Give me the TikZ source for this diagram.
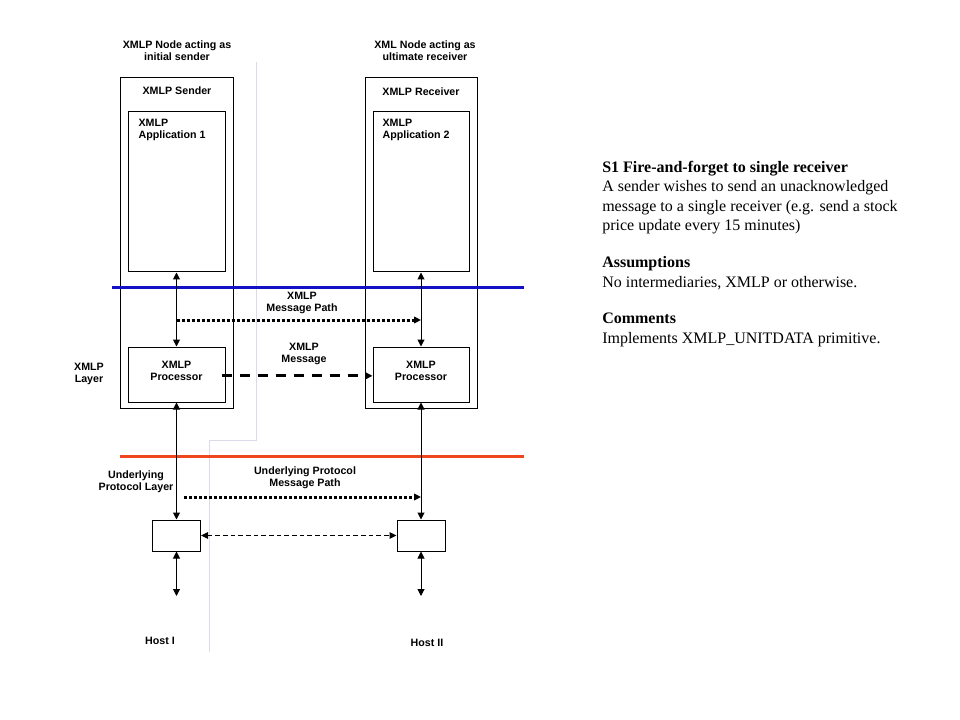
\documentclass[tikz,border=0pt]{standalone}
\usepackage{fontspec}
\setmainfont{Liberation Serif}
\setsansfont{Liberation Sans}
\usepackage{xcolor}
\usepackage{tikz}
\usetikzlibrary{calc,fit,arrows.meta}
\definecolor{bg}{HTML}{FFFFFF}
\definecolor{ink}{HTML}{000000}
\definecolor{xmlpblue}{HTML}{1212C4}
\definecolor{protored}{HTML}{F0461E}
\definecolor{guide}{HTML}{DADAE8}
\newcommand\labfont{\sffamily\bfseries\fontsize{8}{9.2}\selectfont}
\tikzset{
  box/.style={draw=ink, line width=0.75pt, inner sep=0pt, font=\labfont, align=center},
  link/.style={draw=ink, line width=0.75pt, {Triangle[length=5.25pt,width=5.25pt]}-{Triangle[length=5.25pt,width=5.25pt]}},
  path/.style={draw=ink, line width=2.25pt, dash pattern=on 2.25pt off 1.5pt, -{Triangle[length=5.25pt,width=5pt]}},
  msg/.style={draw=ink, line width=2.25pt, dash pattern=on 8pt off 5.5pt, -{Triangle[length=5.25pt,width=5pt]}},
  wire/.style={draw=ink, line width=0.75pt, dash pattern=on 3.5pt off 2.25pt, {Triangle[length=5.25pt,width=5pt]}-{Triangle[length=5.25pt,width=5pt]}},
  layer/.style={line width=2.25pt},
  lab/.style={text=ink, font=\labfont, align=center, inner sep=1pt},
  note/.style={text=ink, font=\fontsize{12}{14.6}\selectfont, align=left, inner sep=0pt},
}

\begin{document}
\begin{tikzpicture}[x=0.75pt,y=-0.75pt]
  \fill[bg] (0,0) rectangle (960,720);
  \useasboundingbox (0,0) rectangle (960,720);
  % faint guide behind the nodes
  \draw[guide, line width=0.75pt] (256,62) -- (256,440) -- (209,440) -- (209,652);

  % sender and receiver nodes
  \node[box, fit={(120,78) (233,408)}] (snd) {};
  \node[box, fit={(128,112) (225,272)}] (app1) {};
  \node[box, fit={(128,347) (225,402)}] (proc1) {XMLP\\Processor};
  \node[box, fit={(365,78) (477,408)}] (rcv) {};
  \node[box, fit={(373,112) (469,272)}] (app2) {};
  \node[box, fit={(373,347) (469,402)}] (proc2) {XMLP\\Processor};
  \node[box, fit={(152.5,520) (200.5,551)}] (ul1) {};
  \node[box, fit={(397,520) (445,551)}] (ul2) {};

  \node[lab] (sndtitle) at (177,51) {XMLP Node acting as\\initial sender};
  \node[lab] (rcvtitle) at (425,51) {XML Node acting as\\ultimate receiver};
  \node[lab] (sndname) at (177,91) {XMLP Sender};
  \node[lab] (rcvname) at (421,92) {XMLP Receiver};
  \node[lab, anchor=west, align=left] (app1lab) at (137,130) {XMLP\\Application 1};
  \node[lab, anchor=west, align=left] (app2lab) at (381,130) {XMLP\\Application 2};

  % layer lines
  \draw[layer, xmlpblue] (112,288) -- (524,288);
  \draw[layer, protored] (120,456) -- (524,456);

  % vertical links
  \coordinate (h1) at (176.5,596);
  \coordinate (h2) at (421,596);
  \draw[link] (app1.south) -- (proc1.north);
  \draw[link] (app2.south) -- (proc2.north);
  \draw[link] (proc1.south) -- (ul1.north);
  \draw[link] (proc2.south) -- (ul2.north);
  \draw[link] (ul1.south) -- (h1);
  \draw[link] (ul2.south) -- (h2);

  % message paths
  \coordinate (mp1) at (176.5,320);
  \coordinate (mp2) at (421,320);
  \coordinate (up1) at (184,497);
  \coordinate (up2) at (421,497);
  \draw[path] (mp1) -- (mp2);
  \draw[msg] ([xshift=-3pt,yshift=-1pt]proc1.east) -- ([yshift=-1pt]proc2.west);
  \draw[path] (up1) -- (up2);
  \draw[wire] (ul1.east) -- (ul2.west);

  \node[lab] (mplab) at (302,303) {XMLP\\Message Path};
  \node[lab] (msglab) at (304,354) {XMLP\\Message};
  \node[lab] (xmlplayer) at (89,374) {XMLP\\Layer};
  \node[lab] (ullayer) at (136,482) {Underlying\\Protocol Layer};
  \node[lab] (uplab) at (305,478) {Underlying Protocol\\Message Path};
  \node[lab] (host1) at (160,641) {Host I};
  \node[lab] (host2) at (427,643) {Host II};

  % scenario text
  \node[note, anchor=north west] (scen) at (602,161) {%
    \textbf{S1 Fire-and-forget to single receiver}\\
    A sender wishes to send an unacknowledged\\
    message to a single receiver (e.g. send a stock\\
    price update every 15 minutes)\\[13pt]
    \textbf{Assumptions}\\
    No intermediaries, XMLP or otherwise.\\[13pt]
    \textbf{Comments}\\
    Implements XMLP\_UNITDATA primitive.};
\end{tikzpicture}
\end{document}
